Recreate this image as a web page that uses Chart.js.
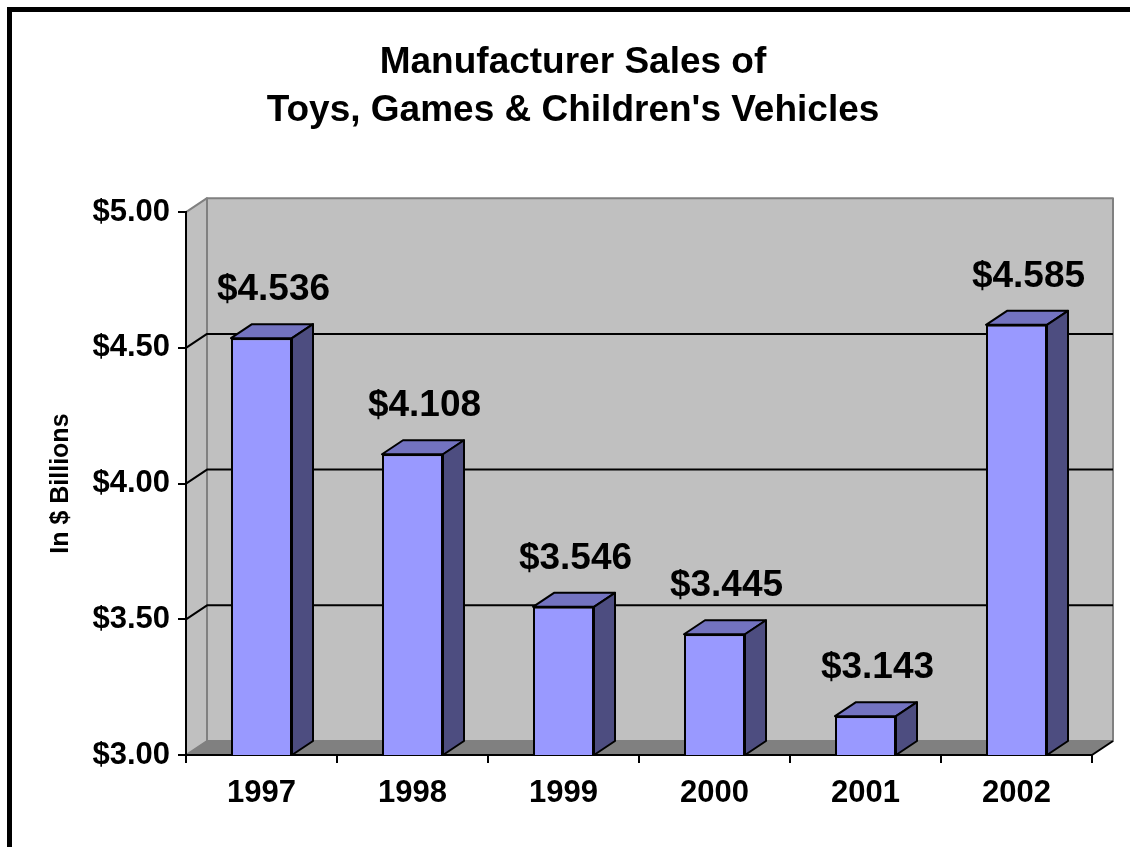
<!DOCTYPE html>
<html>
<head>
    <title>Manufacturer Sales of Toys, Games & Children's Vehicles</title>
    <script src="https://cdn.jsdelivr.net/npm/chart.js"></script>
    <style>
        body { margin: 0; background: #fff; }
    </style>
</head>
<body>
    <canvas id="salesChart" width="1130" height="847"></canvas>

    <script>
        const years = ['1997', '1998', '1999', '2000', '2001', '2002'];
        const sales = [4.536, 4.108, 3.546, 3.445, 3.143, 4.585];
        const yMin = 3;
        const yMax = 5;
        const yStep = 0.5;
        const titleLines = ['Manufacturer Sales of', "Toys, Games & Children's Vehicles"];
        const yTitle = 'In $ Billions';

        const FONT = "'Liberation Sans', Arial, sans-serif";
        const DX = 21, DY = -14; // profondeur 3D

        // murs, sol et quadrillage derrière les barres
        const wallsPlugin = {
            id: 'walls',
            beforeDraw(chart) {
                const ctx = chart.ctx;
                const a = chart.chartArea;
                const yScale = chart.scales.y;
                ctx.save();
                // cadre noir (haut et gauche)
                ctx.fillStyle = '#000';
                ctx.fillRect(7, 7, 1123, 5);
                ctx.fillRect(7, 7, 5, 847);

                ctx.lineJoin = 'round';
                // mur gauche
                ctx.fillStyle = '#c0c0c0';
                ctx.strokeStyle = '#808080';
                ctx.lineWidth = 2;
                ctx.beginPath();
                ctx.moveTo(a.left, a.top);
                ctx.lineTo(a.left + DX, a.top + DY);
                ctx.lineTo(a.left + DX, a.bottom + DY);
                ctx.lineTo(a.left, a.bottom);
                ctx.closePath();
                ctx.fill();
                ctx.stroke();
                // mur du fond
                ctx.beginPath();
                ctx.rect(a.left + DX, a.top + DY, a.right - a.left, a.bottom - a.top);
                ctx.fill();
                ctx.stroke();
                // sol
                ctx.fillStyle = '#808080';
                ctx.beginPath();
                ctx.moveTo(a.left, a.bottom);
                ctx.lineTo(a.left + DX, a.bottom + DY);
                ctx.lineTo(a.right + DX, a.bottom + DY);
                ctx.lineTo(a.right, a.bottom);
                ctx.closePath();
                ctx.fill();
                ctx.strokeStyle = '#000';
                ctx.beginPath();
                ctx.moveTo(a.right, a.bottom);
                ctx.lineTo(a.right + DX, a.bottom + DY);
                ctx.stroke();

                // lignes de quadrillage
                ctx.strokeStyle = '#000';
                ctx.lineWidth = 2;
                yScale.ticks.forEach(t => {
                    if (t.value <= yMin || t.value >= yMax) return;
                    const y = yScale.getPixelForValue(t.value);
                    ctx.beginPath();
                    ctx.moveTo(a.left, y);
                    ctx.lineTo(a.left + DX, y + DY);
                    ctx.lineTo(a.right + DX, y + DY);
                    ctx.stroke();
                });
                ctx.restore();
            }
        };

        // faces 3D des barres et étiquettes de valeurs
        const barsPlugin = {
            id: 'bars3d',
            afterDatasetsDraw(chart) {
                const ctx = chart.ctx;
                const a = chart.chartArea;
                const meta = chart.getDatasetMeta(0);
                ctx.save();
                ctx.lineWidth = 2;
                ctx.lineJoin = 'round';
                ctx.strokeStyle = '#000';
                meta.data.forEach((bar, i) => {
                    const p = bar.getProps(['x', 'y', 'base', 'width'], true);
                    const l = p.x - p.width / 2;
                    const r = p.x + p.width / 2;
                    const base = Math.min(p.base, a.bottom);
                    // dessus
                    ctx.fillStyle = '#7373c0';
                    ctx.beginPath();
                    ctx.moveTo(l, p.y);
                    ctx.lineTo(l + DX, p.y + DY);
                    ctx.lineTo(r + DX, p.y + DY);
                    ctx.lineTo(r, p.y);
                    ctx.closePath();
                    ctx.fill();
                    ctx.stroke();
                    // côté
                    ctx.fillStyle = '#4d4d80';
                    ctx.beginPath();
                    ctx.moveTo(r, p.y);
                    ctx.lineTo(r + DX, p.y + DY);
                    ctx.lineTo(r + DX, base + DY);
                    ctx.lineTo(r, base);
                    ctx.closePath();
                    ctx.fill();
                    ctx.stroke();

                    ctx.fillStyle = '#000';
                    ctx.font = 'bold 37px ' + FONT;
                    ctx.textAlign = 'center';
                    ctx.textBaseline = 'middle';
                    ctx.fillText('$' + sales[i].toFixed(3), p.x + 12, p.y - 48);
                });
                ctx.restore();
            }
        };

        const ctx = document.getElementById('salesChart').getContext('2d');
        new Chart(ctx, {
            type: 'bar',
            data: {
                labels: years,
                datasets: [{
                    data: sales,
                    backgroundColor: '#9999ff',
                    borderColor: '#000',
                    borderWidth: 2,
                    barPercentage: 0.404,
                    categoryPercentage: 1
                }]
            },
            options: {
                responsive: false,
                animation: false,
                layout: { padding: { left: 16, right: 0, top: 0, bottom: 0 } },
                plugins: {
                    legend: { display: false },
                    tooltip: { enabled: false },
                    title: {
                        display: true,
                        text: titleLines,
                        color: '#000',
                        font: { family: FONT, size: 37, weight: 'bold', lineHeight: 1.3 },
                        padding: { top: 39, bottom: 77 }
                    }
                },
                scales: {
                    x: {
                        afterFit(scale) { scale.height = 92; },
                        grid: { offset: true, drawOnChartArea: false, tickLength: 8, color: '#000', lineWidth: 2 },
                        border: { color: '#000', width: 2 },
                        ticks: {
                            color: '#000',
                            padding: 12,
                            font: { family: FONT, size: 31, weight: 'bold' }
                        }
                    },
                    y: {
                        min: yMin,
                        max: yMax,
                        afterFit(scale) { scale.width = 170; },
                        grid: { drawOnChartArea: false, tickLength: 8, color: '#000', lineWidth: 2 },
                        border: { color: '#000', width: 2 },
                        ticks: {
                            stepSize: yStep,
                            color: '#000',
                            padding: 8,
                            font: { family: FONT, size: 31, weight: 'bold' },
                            callback: v => '$' + v.toFixed(2)
                        },
                        title: {
                            display: true,
                            text: yTitle,
                            color: '#000',
                            padding: { top: 30, bottom: 0 },
                            font: { family: FONT, size: 25, weight: 'bold', lineHeight: 1.2 }
                        }
                    },
                    // axe vide à droite pour réserver la marge
                    y2: {
                        position: 'right',
                        afterFit(scale) { scale.width = 38; },
                        grid: { display: false },
                        border: { display: false },
                        ticks: { display: false }
                    }
                }
            },
            plugins: [wallsPlugin, barsPlugin]
        });
    </script>
</body>
</html>
